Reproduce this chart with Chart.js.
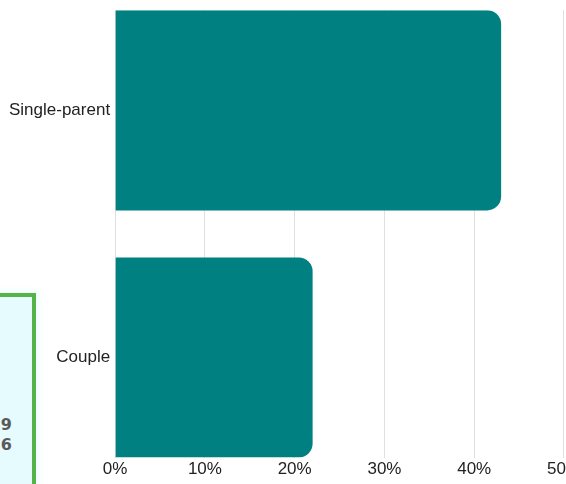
<!DOCTYPE html>
<html>
<head>
<meta charset="utf-8">
<script src="https://cdn.jsdelivr.net/npm/chart.js@4"></script>
<style>
  html, body { margin: 0; padding: 0; background: #fff; overflow: hidden; width: 566px; height: 484px; }
  #box {
    position: absolute; left: -200px; top: 293px; width: 228px; height: 300px;
    background: #e6fbfd; border: 4px solid #55b447;
    box-shadow: 0 0 6px 3px #effcfd;
    font-family: "DejaVu Sans", sans-serif; font-weight: bold; color: #5a5a5a; font-size: 16px;
  }
  #box .v { position: absolute; right: 20px; width: 40px; text-align: right; line-height: 20px; }
  #wrap { position: absolute; left: 0; top: -5px; width: 583px; height: 489px; }
</style>
</head>
<body>
<div id="box"><div class="v" style="top:118px">9</div><div class="v" style="top:138px">6</div></div>
<div id="wrap"><canvas id="c"></canvas></div>
<script>
const categories = ["Single-parent", "Couple"];
const shares = [43, 22];
const xTicks = [0, 10, 20, 30, 40, 50];

const points = shares.map((v, i) => ({ x: v, y: i }));

new Chart(document.getElementById("c"), {
  type: "bar",
  data: {
    datasets: [{
      data: points,
      backgroundColor: "#008080",
      borderRadius: 14,
      borderSkipped: "start",
      barPercentage: 0.9,
      categoryPercentage: 0.9
    }]
  },
  options: {
    indexAxis: "y",
    responsive: true,
    maintainAspectRatio: false,
    animation: false,
    layout: { padding: { top: 3, left: 4, bottom: 2 } },
    plugins: { legend: { display: false }, tooltip: { enabled: false } },
    scales: {
      x: {
        type: "linear",
        min: 0, max: 50,
        afterBuildTicks: s => { s.ticks = xTicks.map(v => ({ value: v })); },
        ticks: { callback: v => v + "%", color: "#222", font: { family: "Liberation Sans, Arial", size: 17 }, padding: 2 },
        grid: { color: "rgba(0,0,0,0.12)", drawTicks: false },
        border: { display: false }
      },
      y: {
        type: "linear",
        reverse: true,
        offset: false,
        min: -0.405, max: 1.405,
        afterBuildTicks: s => { s.ticks = categories.map((c, i) => ({ value: i })); },
        ticks: { callback: v => categories[v], color: "#222", font: { family: "Liberation Sans, Arial", size: 17 }, padding: 5 },
        grid: { display: false, drawTicks: false, offset: false },
        border: { display: false }
      }
    }
  }
});
</script>
</body>
</html>
